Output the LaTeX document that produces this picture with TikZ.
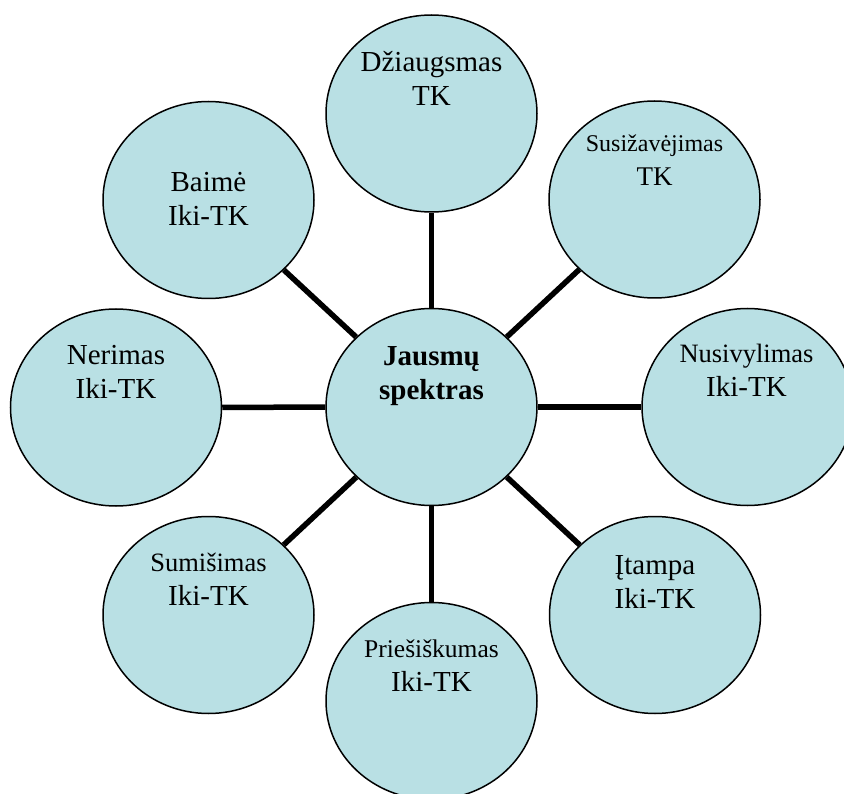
\documentclass[tikz,border=0pt]{standalone}
\usepackage{fontspec}
\setmainfont{Liberation Serif}
\usetikzlibrary{shapes.geometric,backgrounds,calc}
\definecolor{bubblefill}{RGB}{185,224,228}
\tikzset{
  bubble/.style={ellipse, draw=black, line width=1.5pt, fill=bubblefill,
    minimum width=211pt, minimum height=197pt, inner sep=0pt},
  % anchored at the baseline of the last line
  caption/.style={anchor=base, align=center, inner sep=0pt,
    font=\fontsize{29}{34}\selectfont},
  spoke/.style={line width=5.5pt}
}
\begin{document}
\begin{tikzpicture}[x=1pt,y=-1pt]
\useasboundingbox (0,0) rectangle (844,794);

% hub and the eight emotions around it
\node[bubble] (hub)  at (431.5,407)   {};
\node[bubble] (joy)  at (431.5,113.5) {};
\node[bubble] (adm)  at (654.5,199.5) {};
\node[bubble] (dis)  at (747.5,407)   {};
\node[bubble] (ten)  at (655,615)     {};
\node[bubble] (hos)  at (431.5,701)   {};
\node[bubble] (con)  at (208.5,615)   {};
\node[bubble] (anx)  at (116,407.5)   {};
\node[bubble] (fear) at (208.5,200)   {};

% spokes behind the bubbles
\begin{scope}[on background layer]
  \foreach \n in {joy,adm,dis,ten,hos,con,anx,fear}
    \draw[spoke] (hub) -- (\n);
\end{scope}

% captions
\node[caption, font=\fontsize{29}{34}\selectfont\bfseries] (thub) at ($(hub)+(0,-7)$) {Jausmų\\spektras};
\node[caption] (tjoy) at ($(joy)+(0,-7.5)$) {Džiaugsmas\\TK};
\node[caption] (tadm) at ($(adm)+(0,-13.5)$) {{\fontsize{24}{31}\selectfont Susižavėjimas}\\{\fontsize{27}{31}\selectfont TK}};
\node[caption] (tdis) at ($(dis)+(-1,-10)$) {{\fontsize{26.5}{34}\selectfont Nusivylimas}\\Iki-TK};
\node[caption] (tten) at ($(ten)+(0,-7)$) {Įtampa\\Iki-TK};
\node[caption] (thos) at ($(hos)+(0,-10)$) {{\fontsize{25.5}{33}\selectfont Priešiškumas}\\Iki-TK};
\node[caption] (tcon) at ($(con)+(0,-10)$) {{\fontsize{26.5}{33}\selectfont Sumišimas}\\Iki-TK};
\node[caption] (tanx) at ($(anx)+(0,-8.5)$) {Nerimas\\Iki-TK};
\node[caption] (tfear) at ($(fear)+(0,26)$) {Baimė\\Iki-TK};
\end{tikzpicture}
\end{document}
